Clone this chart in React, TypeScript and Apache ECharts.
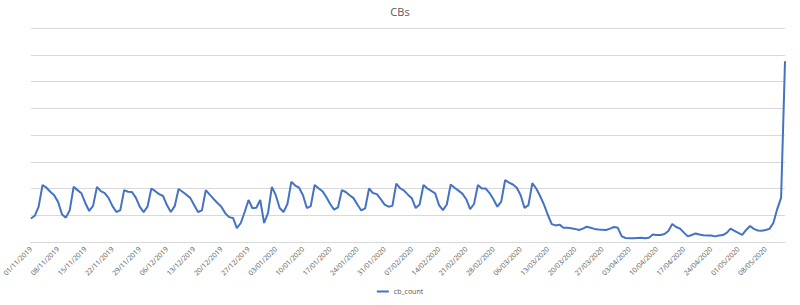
import React, { useEffect, useRef } from "react";
import * as echarts from "echarts";

const START_DATE = [2019, 10, 1]; // 01/11/2019 (month index 0-based)
const DAY_COUNT = 195;

const cbCount = [
  88, 98, 132, 213, 203, 188, 175, 150, 104, 91,
  119, 206, 194, 182, 146, 116, 135, 206, 190, 183,
  164, 134, 112, 119, 194, 188, 187, 166, 132, 112,
  132, 200, 190, 179, 172, 138, 112, 134, 198, 188,
  177, 165, 138, 112, 118, 194, 177, 161, 146, 132,
  108, 93, 90, 52, 71, 112, 157, 126, 128, 157,
  71, 108, 206, 175, 127, 112, 142, 225, 211, 203,
  175, 127, 134, 213, 201, 190, 168, 142, 121, 129,
  194, 187, 175, 164, 140, 118, 126, 200, 183, 179,
  160, 140, 132, 135, 218, 201, 192, 177, 164, 127,
  140, 213, 200, 191, 182, 138, 119, 140, 215, 203,
  192, 181, 160, 123, 142, 213, 200, 200, 183, 160,
  132, 151, 231, 222, 215, 203, 175, 127, 138, 220,
  200, 172, 140, 101, 67, 62, 65, 53, 53, 51,
  49, 45, 50, 57, 53, 49, 47, 46, 45, 50,
  56, 53, 21, 15, 14, 14, 15, 16, 14, 16,
  28, 26, 26, 30, 41, 67, 56, 50, 35, 21,
  26, 32, 28, 25, 24, 24, 21, 24, 26, 34,
  50, 42, 34, 27, 45, 60, 49, 43, 42, 45,
  49, 71, 123, 166, 676,
];

const pad = (n: number) => (n < 10 ? "0" + n : "" + n);
const categories: string[] = [];
for (let i = 0; i < DAY_COUNT; i++) {
  const d = new Date(Date.UTC(START_DATE[0], START_DATE[1], START_DATE[2] + i));
  categories.push(pad(d.getUTCDate()) + "/" + pad(d.getUTCMonth() + 1) + "/" + d.getUTCFullYear());
}

const FONT = "'Open Sans', 'Liberation Sans', sans-serif";

export default function App() {
  const ref = useRef<HTMLDivElement>(null);
  useEffect(() => {
    document.body.style.margin = "0";
    if (!ref.current) return;
    const chart = echarts.init(ref.current, null, { renderer: "svg" });
    chart.setOption({
      animation: false,
      backgroundColor: "#ffffff",
      title: {
        text: "CBs",
        left: "center",
        top: 1,
        textStyle: { fontSize: 11, fontWeight: "normal", color: "#595959", fontFamily: FONT },
      },
      legend: {
        data: ["cb_count"],
        bottom: 5,
        left: "center",
        icon: "rect",
        itemWidth: 12,
        itemHeight: 2,
        itemGap: 4,
        textStyle: { fontSize: 7, color: "#595959", fontFamily: FONT },
      },
      grid: { left: 30, right: 15, top: 28, bottom: 63, containLabel: false },
      xAxis: {
        type: "category",
        data: categories,
        boundaryGap: false,
        axisLine: { show: true, lineStyle: { color: "#d9d9d9", width: 1 } },
        axisTick: { show: false },
        axisLabel: {
          interval: 6,
          rotate: 45,
          fontSize: 7,
          color: "#595959",
          fontFamily: FONT,
          margin: 6,
        },
        splitLine: { show: false },
      },
      yAxis: {
        type: "value",
        min: 0,
        max: 800,
        interval: 100,
        axisLabel: { show: false },
        axisLine: { show: false },
        axisTick: { show: false },
        splitLine: { show: true, lineStyle: { color: "#d9d9d9", width: 1 } },
      },
      series: [
        {
          name: "cb_count",
          type: "line",
          data: cbCount,
          showSymbol: false,
          symbol: "none",
          lineStyle: { color: "#4472c4", width: 2 },
          itemStyle: { color: "#4472c4" },
        },
      ],
    });
    return () => chart.dispose();
  }, []);
  return <div ref={ref} style={{ width: 800, height: 305 }} />;
}
